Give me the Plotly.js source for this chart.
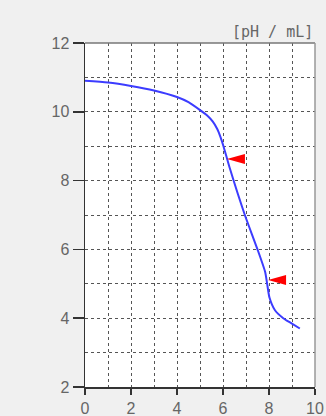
<!DOCTYPE html>
<html>
<head>
<meta charset="utf-8">
<script src="https://cdn.plot.ly/plotly-3.0.1.min.js"></script>
<style>
  html, body { margin: 0; padding: 0; background: #f0f0f0; }
  #chart { width: 326px; height: 416px; }
</style>
</head>
<body>
<div id="chart"></div>
<script>
// Titration curve: volume (mL) vs pH
const volumeML = [0, 1, 2, 3, 4, 4.5, 5, 5.3, 5.55, 5.75, 5.9, 6.02, 6.15, 6.3, 6.95, 7.5, 7.83, 7.92, 8.02, 8.26, 8.62, 8.98, 9.34];
const pH =       [10.9, 10.85, 10.75, 10.62, 10.43, 10.28, 10.05, 9.9, 9.72, 9.5, 9.25, 9.0, 8.7, 8.35, 7.0, 6.0, 5.35, 5.0, 4.6, 4.23, 4.0, 3.85, 3.7];

// Red flags marking points on the curve
const flagX = [6.17, 7.96];
const flagY = [8.63, 5.11];

const xTicks = [0, 2, 4, 6, 8, 10];
const yTicks = [2, 4, 6, 8, 10, 12];
const unitLabel = "[pH / mL]";

const gridStyle = { showgrid: true, gridcolor: '#555', gridwidth: 1, griddash: '3px,3px' };

const flagShapes = flagX.map((x, i) => ({
  type: 'path', xref: 'x', yref: 'y',
  xsizemode: 'pixel', ysizemode: 'pixel',
  xanchor: x, yanchor: flagY[i],
  path: 'M0,0 L18,5 L18,-5 Z',
  fillcolor: '#ff0000', line: { width: 0 }, layer: 'above'
}));

const data = [{
  x: volumeML, y: pH, type: 'scatter', mode: 'lines',
  line: { color: '#3c3cff', width: 2, shape: 'spline', smoothing: 0.6 },
  hoverinfo: 'skip'
}];

const layout = {
  width: 326, height: 416,
  margin: { l: 85, r: 11, t: 43, b: 29 },
  paper_bgcolor: '#f0f0f0', plot_bgcolor: '#ffffff',
  showlegend: false,
  font: { family: 'Liberation Sans, Arial, sans-serif', color: '#666' },
  xaxis: Object.assign({
    range: [0, 10], tickvals: xTicks, ticktext: xTicks.map(String),
    ticks: 'outside', ticklen: 6, tickcolor: '#333', tickwidth: 1.5,
    showline: true, linecolor: '#333', linewidth: 1.5,
    tickfont: { size: 16, color: '#666' }, zeroline: false,
    minor: { dtick: 1, tick0: 0, showgrid: true, gridcolor: '#555', gridwidth: 1, griddash: '3px,3px' }
  }, gridStyle),
  yaxis: Object.assign({
    range: [2, 12], tickvals: yTicks, ticktext: yTicks.map(String),
    ticks: 'outside', ticklen: 11, tickcolor: '#333', tickwidth: 1.5,
    showline: true, linecolor: '#333', linewidth: 1.5,
    tickfont: { size: 16, color: '#666' }, zeroline: false,
    minor: { dtick: 1, tick0: 0, showgrid: true, gridcolor: '#555', gridwidth: 1, griddash: '3px,3px' }
  }, gridStyle),
  shapes: [
    { type: 'line', xref: 'paper', yref: 'paper', x0: 0, x1: 1, y0: 1, y1: 1, line: { color: '#777', width: 1.5 }, layer: 'above' },
    { type: 'line', xref: 'paper', yref: 'paper', x0: 1, x1: 1, y0: 0, y1: 1, line: { color: '#999', width: 1.5 }, layer: 'above' }
  ].concat(flagShapes),
  annotations: [{
    text: unitLabel, xref: 'paper', yref: 'paper', x: 1.0, y: 1.0,
    xanchor: 'right', yanchor: 'bottom', showarrow: false, yshift: 0,
    font: { family: 'DejaVu Sans Mono, monospace', size: 15, color: '#666' }
  }]
};

Plotly.newPlot('chart', data, layout, { displayModeBar: false, staticPlot: true });
</script>
</body>
</html>
